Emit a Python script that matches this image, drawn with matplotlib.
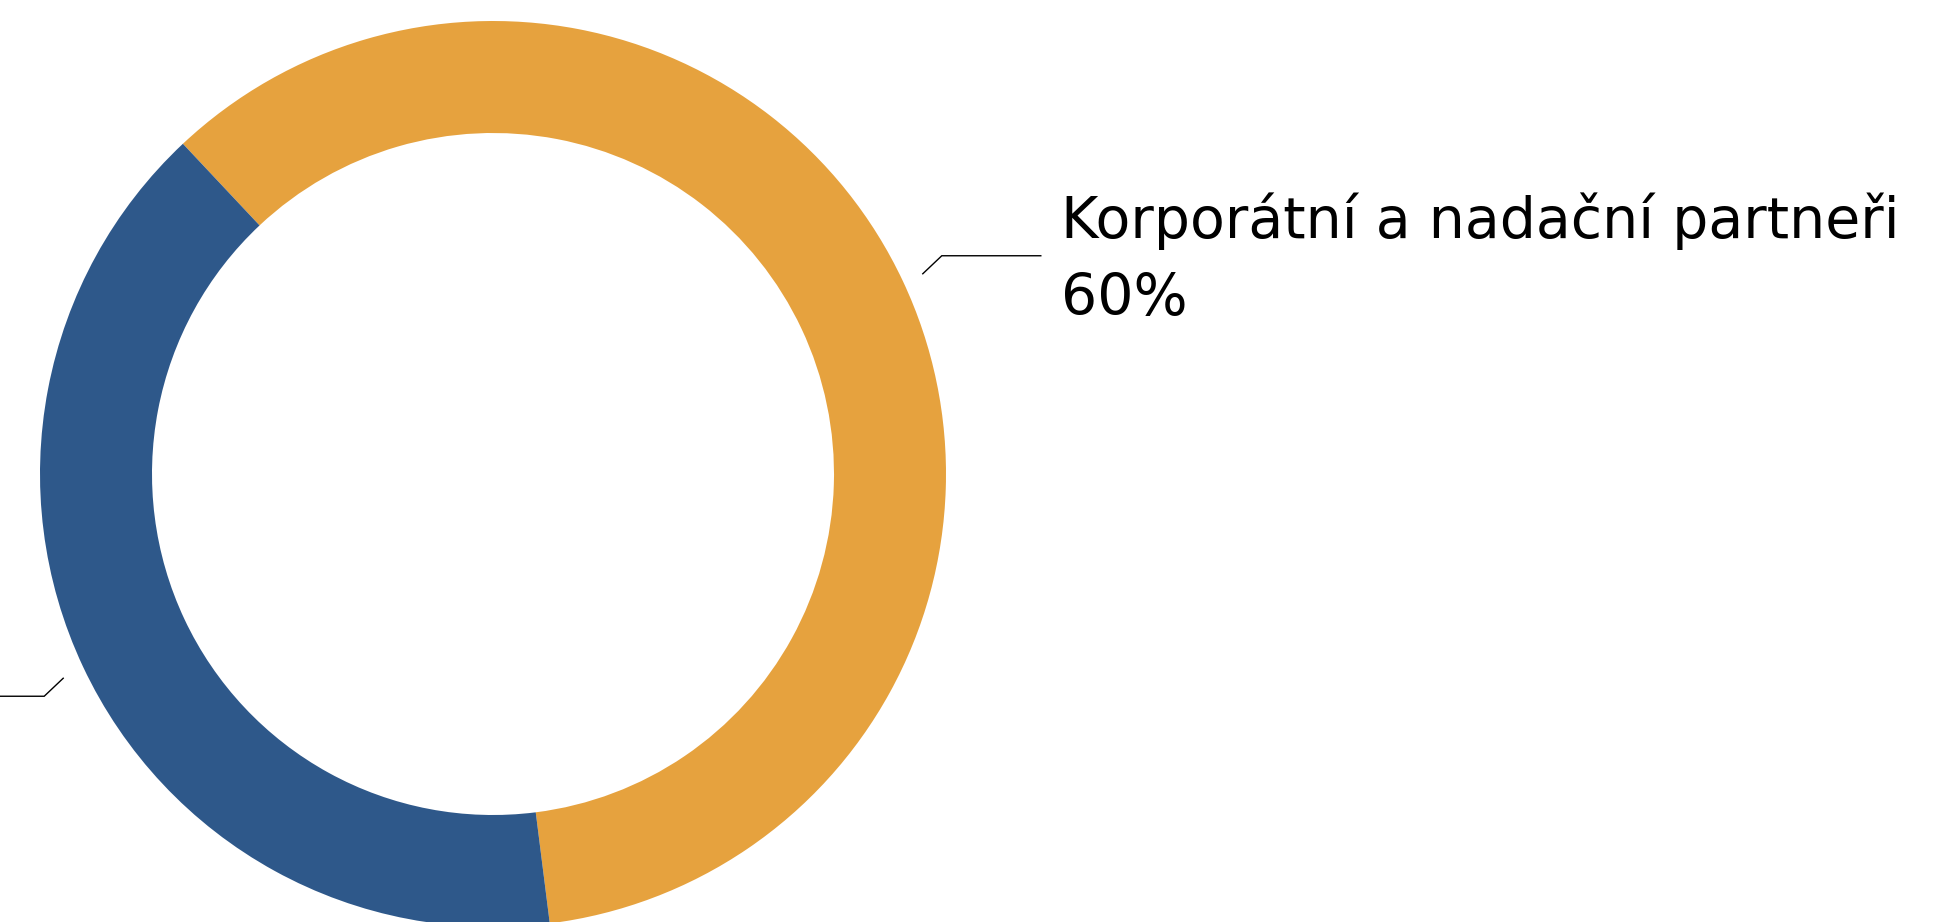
import numpy as np
import matplotlib
matplotlib.use("Agg")
import matplotlib.pyplot as plt

labels = ["Korporátní a nadační partneři", "Individuální dárci"]
values = [60, 40]
colors = ["#E6A23E", "#2E588A"]

W, H = 1937, 922
fig = plt.figure(figsize=(W / 100, H / 100), dpi=100)
ax = fig.add_axes([0, 0, 1, 1])

# donut geometry in pixel coords (y up)
cx, cy = 493, 922 - 474
r_out, ring = 453, 112
start = -82.8

wedges, _ = ax.pie(values, colors=colors, startangle=start, counterclock=True,
                   radius=r_out, center=(cx, cy),
                   wedgeprops=dict(width=ring, linewidth=0))

ax.set_xlim(0, W)
ax.set_ylim(0, H)
ax.set_aspect("equal")
ax.axis("off")

# connector lines + labels
for w, lab, val in zip(wedges, labels, values):
    mid = np.deg2rad((w.theta1 + w.theta2) / 2)
    x0, y0 = cx + (r_out + 22) * np.cos(mid), cy + (r_out + 22) * np.sin(mid)
    x1, y1 = x0 + 19 * np.sign(np.cos(mid)), y0 + 18 * np.sign(np.sin(mid))
    side = 1 if np.cos(mid) > 0 else -1
    x2 = x1 + side * 99
    ax.plot([x0, x1, x2], [y0 - 2, y1 - 2, y1 - 2], color="black", lw=1,
            solid_joinstyle="miter", clip_on=False)
    if side > 0:
        ax.text(x2 + 20, y1 + 16, lab, fontsize=41, family="DejaVu Sans",
                ha="left", va="baseline")
        ax.text(x2 + 20, y1 - 61, f"{val}%", fontsize=41, family="DejaVu Sans",
                ha="left", va="baseline")

fig.savefig("out.png", dpi=100, facecolor="white")
